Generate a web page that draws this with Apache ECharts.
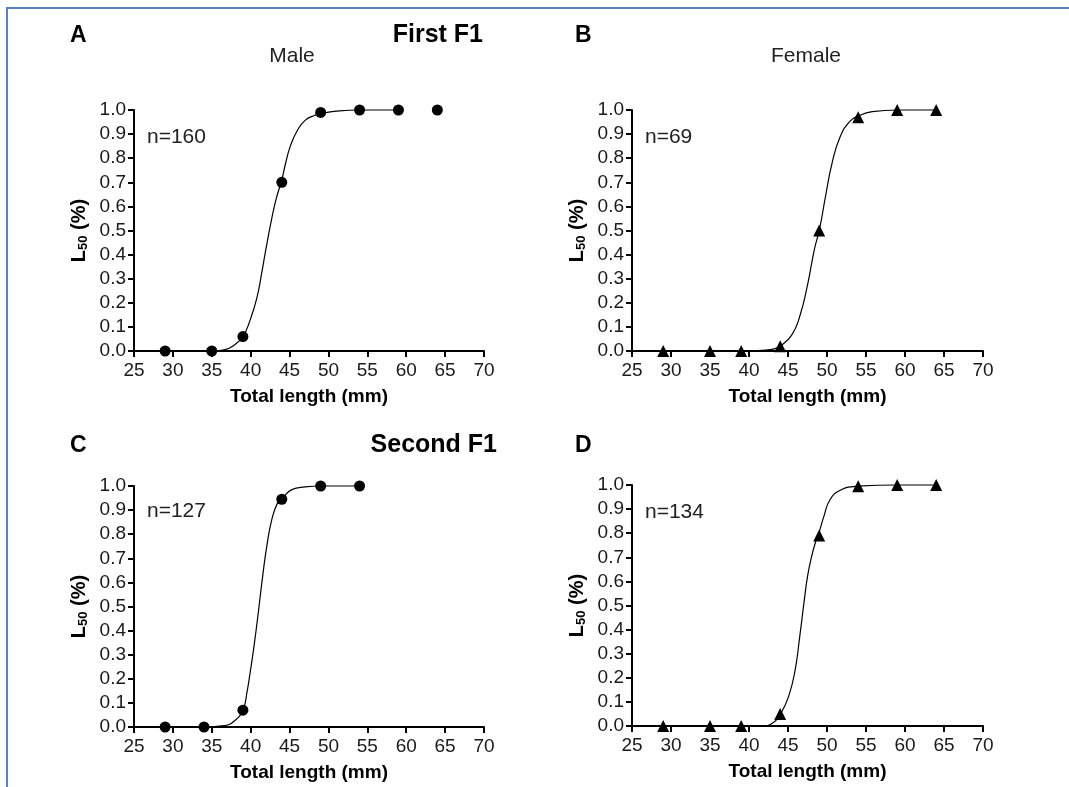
<!DOCTYPE html>
<html>
<head>
<meta charset="utf-8">
<script src="https://cdn.jsdelivr.net/npm/echarts@6/dist/echarts.min.js"></script>
<style>
html,body{margin:0;padding:0;background:#fff;}
#chart{width:1069px;height:787px;}
</style>
</head>
<body>
<div id="chart"></div>
<script>
// ---- tick labels ----
const xTicks = [25, 30, 35, 40, 45, 50, 55, 60, 65, 70];
const yTicks = [0.0, 0.1, 0.2, 0.3, 0.4, 0.5, 0.6, 0.7, 0.8, 0.9, 1.0];

// ---- panel A: First F1, male ----
const lengthA = [29, 35, 39, 44, 49, 54, 59, 64];
const matureA = [0, 0, 0.06, 0.70, 0.99, 1.0, 1.0, 1.0];
const curveAX = [35, 36.6, 37.9, 39.0, 39.95, 40.8, 41.4, 42.0, 42.65, 43.27, 44.0, 44.5, 45.1, 46.0, 47.0, 48.25, 49.0, 51.0, 54.0, 59.0];
const curveAY = [0, 0.005, 0.025, 0.06, 0.13, 0.22, 0.32, 0.43, 0.54, 0.63, 0.71, 0.78, 0.85, 0.915, 0.957, 0.978, 0.985, 0.995, 1.0, 1.0];

// ---- panel B: First F1, female ----
const lengthB = [29, 35, 39, 44, 49, 54, 59, 64];
const matureB = [0, 0, 0, 0.02, 0.50, 0.97, 1.0, 1.0];
const curveBX = [39, 42.15, 43.2, 44.0, 45.47, 46.5, 47.54, 48.37, 49.07, 49.8, 50.65, 51.7, 52.9, 54.0, 55.8, 59, 64];
const curveBY = [0, 0.004, 0.009, 0.02, 0.066, 0.143, 0.28, 0.42, 0.51, 0.64, 0.78, 0.89, 0.952, 0.975, 0.993, 1.0, 1.0];

// ---- panel C: Second F1, male ----
const lengthC = [29, 34, 39, 44, 49, 54];
const matureC = [0, 0, 0.07, 0.945, 1.0, 1.0];
const curveCX = [34, 36.64, 37.9, 39.0, 39.54, 39.95, 40.45, 41.0, 41.52, 42.1, 42.76, 43.46, 44.0, 45.3, 47.0, 49.0, 54.0];
const curveCY = [0, 0.006, 0.025, 0.07, 0.147, 0.23, 0.34, 0.48, 0.62, 0.756, 0.867, 0.93, 0.948, 0.985, 0.996, 1.0, 1.0];

// ---- panel D: Second F1, female ----
const lengthD = [29, 35, 39, 44, 49, 54, 59, 64];
const matureD = [0, 0, 0, 0.05, 0.79, 0.995, 1.0, 1.0];
const curveDX = [39, 41.7, 43.0, 44.0, 45.05, 45.9, 46.5, 47.04, 47.5, 48.0, 48.5, 49.0, 49.6, 50.4, 51.7, 53.9, 59, 64];
const curveDY = [0, 0, 0.011, 0.048, 0.12, 0.23, 0.37, 0.51, 0.62, 0.70, 0.76, 0.805, 0.87, 0.94, 0.978, 0.995, 1.0, 1.0];

const panelLetters = ['A', 'B', 'C', 'D'];
const sampleSizes = ['n=160', 'n=69', 'n=127', 'n=134'];
const xName = 'Total length (mm)';

function pairs(xs, ys) { return xs.map((x, i) => [x, ys[i]]); }

const FONT = 'Liberation Sans, Arial, sans-serif';
const grids = [
  { left: 134, top: 110, width: 350, height: 241 },
  { left: 632, top: 110, width: 351, height: 241 },
  { left: 134, top: 486, width: 350, height: 241 },
  { left: 632, top: 485, width: 351, height: 241 }
];

const axisLine = { show: true, onZero: false, lineStyle: { color: '#000', width: 2 } };
const axisTick = { show: true, inside: false, length: 6, lineStyle: { color: '#000', width: 2 } };

const xAxes = grids.map((g, i) => ({
  type: 'value', gridIndex: i,
  min: xTicks[0], max: xTicks[xTicks.length - 1], interval: xTicks[1] - xTicks[0],
  axisLine, axisTick, splitLine: { show: false },
  axisLabel: { margin: 10, fontSize: 19, fontFamily: FONT, color: '#1a1a1a' },
  name: xName, nameLocation: 'middle', nameGap: 36,
  nameTextStyle: { fontSize: 19, fontWeight: 'bold', fontFamily: FONT, color: '#000' }
}));

const yAxes = grids.map((g, i) => ({
  type: 'value', gridIndex: i,
  min: yTicks[0], max: yTicks[yTicks.length - 1], interval: 0.1,
  axisLine, axisTick, splitLine: { show: false },
  axisLabel: { margin: 8, fontSize: 19, fontFamily: FONT, color: '#1a1a1a', formatter: v => v.toFixed(1) },
  name: '{m|L}{s|50}{m| (%)}', nameLocation: 'middle', nameGap: 44, nameRotate: 90,
  nameTextStyle: {
    rich: {
      m: { fontSize: 20, fontWeight: 'bold', fontFamily: FONT, color: '#000', lineHeight: 22 },
      s: { fontSize: 13, fontWeight: 'bold', fontFamily: FONT, color: '#000', lineHeight: 8, verticalAlign: 'bottom' }
    }
  }
}));

const panels = [
  { pts: pairs(lengthA, matureA), curve: pairs(curveAX, curveAY), symbol: 'circle' },
  { pts: pairs(lengthB, matureB), curve: pairs(curveBX, curveBY), symbol: 'triangle' },
  { pts: pairs(lengthC, matureC), curve: pairs(curveCX, curveCY), symbol: 'circle' },
  { pts: pairs(lengthD, matureD), curve: pairs(curveDX, curveDY), symbol: 'triangle' }
];

const series = [];
panels.forEach((p, i) => {
  series.push({
    type: 'line', xAxisIndex: i, yAxisIndex: i, data: p.curve,
    smooth: 0.5, showSymbol: false, symbol: 'none',
    lineStyle: { color: '#000', width: 1.2 }, clip: false, z: 3
  });
  series.push({
    type: 'scatter', xAxisIndex: i, yAxisIndex: i, data: p.pts,
    symbol: p.symbol, symbolSize: p.symbol === 'circle' ? 11 : 12,
    itemStyle: { color: '#000', opacity: 1 }, clip: false, z: 5
  });
});

function txt(text, x, y, size, bold, align, color) {
  return {
    type: 'text', x: x, y: y, z: 10,
    style: {
      text: text, fontSize: size, fontWeight: bold ? 'bold' : 'normal', fontFamily: FONT,
      fill: color || '#000', align: align || 'left', verticalAlign: 'middle'
    }
  };
}

const graphic = [
  { type: 'line', shape: { x1: 6, y1: 8, x2: 1069, y2: 8 }, style: { stroke: '#5383c3', lineWidth: 2 }, z: 1 },
  { type: 'line', shape: { x1: 7, y1: 8, x2: 7, y2: 787 }, style: { stroke: '#5383c3', lineWidth: 2 }, z: 1 },
  txt(panelLetters[0], 70, 36, 23, true),
  txt(panelLetters[1], 575, 36, 23, true),
  txt(panelLetters[2], 70, 446, 23, true),
  txt(panelLetters[3], 575, 446, 23, true),
  txt('First F1', 483, 35, 25, true, 'right'),
  txt('Second F1', 497, 445, 25, true, 'right'),
  txt('Male', 292, 56, 21, false, 'center', '#222'),
  txt('Female', 806, 56, 21, false, 'center', '#222'),
  txt(sampleSizes[0], 147, 137, 21, false, 'left', '#222'),
  txt(sampleSizes[1], 645, 137, 21, false, 'left', '#222'),
  txt(sampleSizes[2], 147, 511, 21, false, 'left', '#222'),
  txt(sampleSizes[3], 645, 512, 21, false, 'left', '#222')
];

const chart = echarts.init(document.getElementById('chart'), null, { renderer: 'canvas' });
chart.setOption({
  animation: false,
  backgroundColor: '#fff',
  grid: grids,
  xAxis: xAxes,
  yAxis: yAxes,
  series: series,
  graphic: graphic
});
</script>
</body>
</html>
